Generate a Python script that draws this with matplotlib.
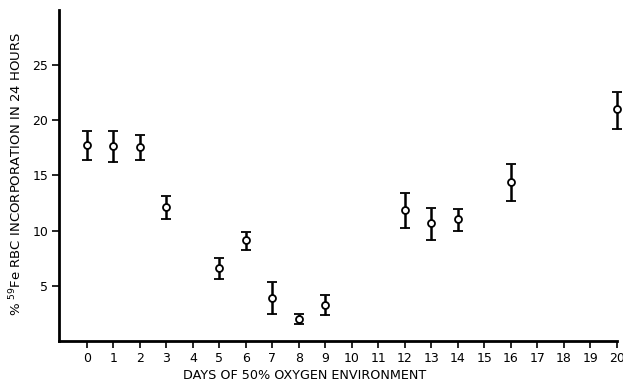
import numpy as np
from matplotlib import pyplot as plt

days = [0, 1, 2, 3, 5, 6, 7, 8, 9, 12, 13, 14, 16, 20]
pct = [17.8, 17.7, 17.6, 12.1, 6.6, 9.15, 3.9, 1.95, 3.25, 11.9, 10.65, 11.05, 14.4, 21.0]
err_hi = [19.0, 19.0, 18.7, 13.15, 7.5, 9.85, 5.3, 2.4, 4.2, 13.4, 12.05, 12.0, 16.0, 22.6]
err_lo = [16.4, 16.2, 16.4, 11.05, 5.65, 8.25, 2.4, 1.5, 2.35, 10.2, 9.1, 9.95, 12.65, 19.2]
xticks = list(range(0, 21))
yticks = [5, 10, 15, 20, 25]

pct = np.array(pct)
yerr = [pct - np.array(err_lo), np.array(err_hi) - pct]

plt.rcParams['font.family'] = ['DejaVu Sans']
fig = plt.figure(figsize=(6.23, 3.86), dpi=100)
ax = fig.add_axes([0.095, 0.117, 0.895, 0.857])

ax.errorbar(days, pct, yerr=yerr, fmt='o', ms=5, mfc='white', mec='black',
            mew=1.3, ecolor='black', elinewidth=1.8, capsize=3.5, capthick=1.8,
            color='black', clip_on=False, zorder=3)

ax.set_xlim(-1.05, 20)
ax.set_ylim(0, 30)
ax.set_xticks(xticks)
ax.set_yticks(yticks)
ax.tick_params(axis='both', length=5, width=1.2, labelsize=9, pad=3)
for s in ['top', 'right']:
    ax.spines[s].set_visible(False)
for s in ['left', 'bottom']:
    ax.spines[s].set_linewidth(2)

ax.set_xlabel('DAYS OF 50% OXYGEN ENVIRONMENT', fontsize=9.2)
ax.xaxis.set_label_coords(0.44, -0.085)
ax.set_ylabel('% $^{59}$Fe RBC INCORPORATION IN 24 HOURS', fontsize=9.5)
ax.yaxis.set_label_coords(-0.063, 0.505)

fig.savefig('out.png', dpi=100)
